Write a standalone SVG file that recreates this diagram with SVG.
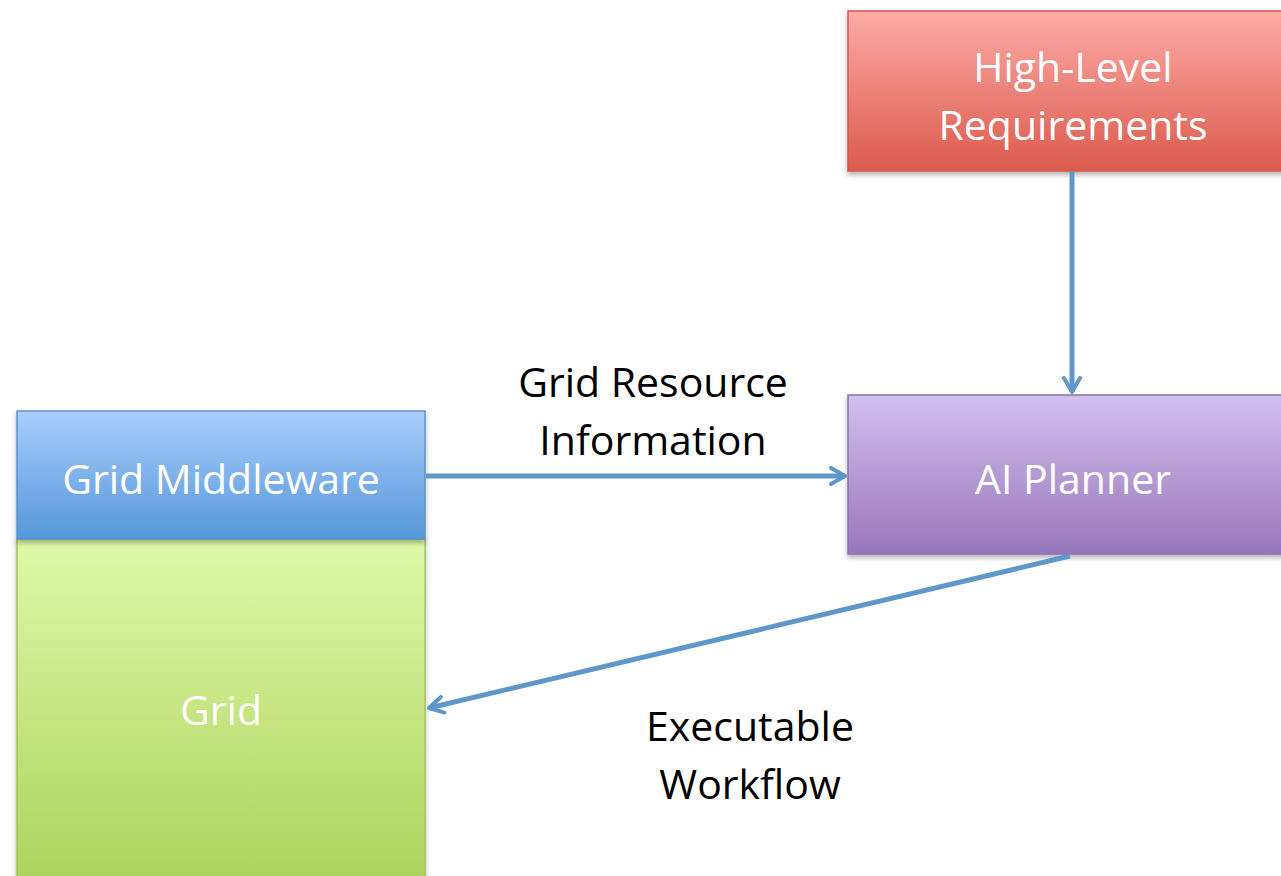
<svg xmlns="http://www.w3.org/2000/svg" width="1281" height="876" viewBox="0 0 1281 876">
  <style>
    .box-label { font-family: "Open Sans", "Liberation Sans", sans-serif; font-size: 41px; fill: #ffffff; text-anchor: middle; }
    .edge-label { font-family: "Open Sans", "Liberation Sans", sans-serif; font-size: 41px; fill: #000000; text-anchor: middle; }
    .edge { stroke: #5f97cb; stroke-width: 5; fill: none; marker-end: url(#arrow); }
  </style>
  <defs>
    <linearGradient id="gRed" x1="0" y1="0" x2="0" y2="1">
      <stop offset="0" stop-color="#fdaba7"/>
      <stop offset="1" stop-color="#db5a4d"/>
    </linearGradient>
    <linearGradient id="gBlue" x1="0" y1="0" x2="0" y2="1">
      <stop offset="0" stop-color="#a9cefd"/>
      <stop offset="1" stop-color="#5597d9"/>
    </linearGradient>
    <linearGradient id="gGreen" x1="0" y1="0" x2="0" y2="1">
      <stop offset="0" stop-color="#def9a9"/>
      <stop offset="1" stop-color="#afd25e"/>
    </linearGradient>
    <linearGradient id="gPurple" x1="0" y1="0" x2="0" y2="1">
      <stop offset="0" stop-color="#d3c0ef"/>
      <stop offset="1" stop-color="#9876ba"/>
    </linearGradient>
    <filter id="shadow" x="-10%" y="-10%" width="120%" height="130%">
      <feDropShadow dx="0" dy="3" stdDeviation="2.5" flood-color="#000" flood-opacity="0.3"/>
    </filter>
    <marker id="arrow" viewBox="0 0 20 20" refX="17" refY="10" markerWidth="20" markerHeight="20" markerUnits="userSpaceOnUse" orient="auto">
      <path d="M3,2 L17,10 L3,18" fill="none" stroke="#5f97cb" stroke-width="4" stroke-linecap="round" stroke-linejoin="round"/>
    </marker>
  </defs>

  <rect width="1281" height="876" fill="#ffffff"/>

  <g id="grid">
    <rect x="17" y="539" width="408" height="340" fill="url(#gGreen)" stroke="#a3c45a" stroke-width="1.5" filter="url(#shadow)"/>
    <text class="box-label" x="221" y="725">Grid</text>
  </g>

  <g id="grid-middleware">
    <rect x="17" y="411" width="408" height="128" fill="url(#gBlue)" stroke="#5d92c9" stroke-width="1.5" filter="url(#shadow)"/>
    <text class="box-label" x="221" y="494">Grid Middleware</text>
  </g>

  <g id="high-level-requirements">
    <rect x="848" y="11" width="440" height="160" fill="url(#gRed)" stroke="#d05a50" stroke-width="1.5" filter="url(#shadow)"/>
    <text class="box-label" x="1073" y="82">High-Level</text>
    <text class="box-label" x="1073" y="140">Requirements</text>
  </g>

  <g id="ai-planner">
    <rect x="848" y="395" width="440" height="159" fill="url(#gPurple)" stroke="#8d70b0" stroke-width="1.5" filter="url(#shadow)"/>
    <text class="box-label" x="1073" y="494">AI Planner</text>
  </g>

  <g id="connectors">
    <line class="edge" x1="1072" y1="172" x2="1072" y2="392"/>
    <line class="edge" x1="426" y1="476" x2="845" y2="476"/>
    <line class="edge" x1="1070" y1="556" x2="429" y2="708"/>
    <text class="edge-label" x="653" y="397">Grid Resource</text>
    <text class="edge-label" x="653" y="455">Information</text>
    <text class="edge-label" x="750" y="741">Executable</text>
    <text class="edge-label" x="750" y="799">Workflow</text>
  </g>
</svg>
